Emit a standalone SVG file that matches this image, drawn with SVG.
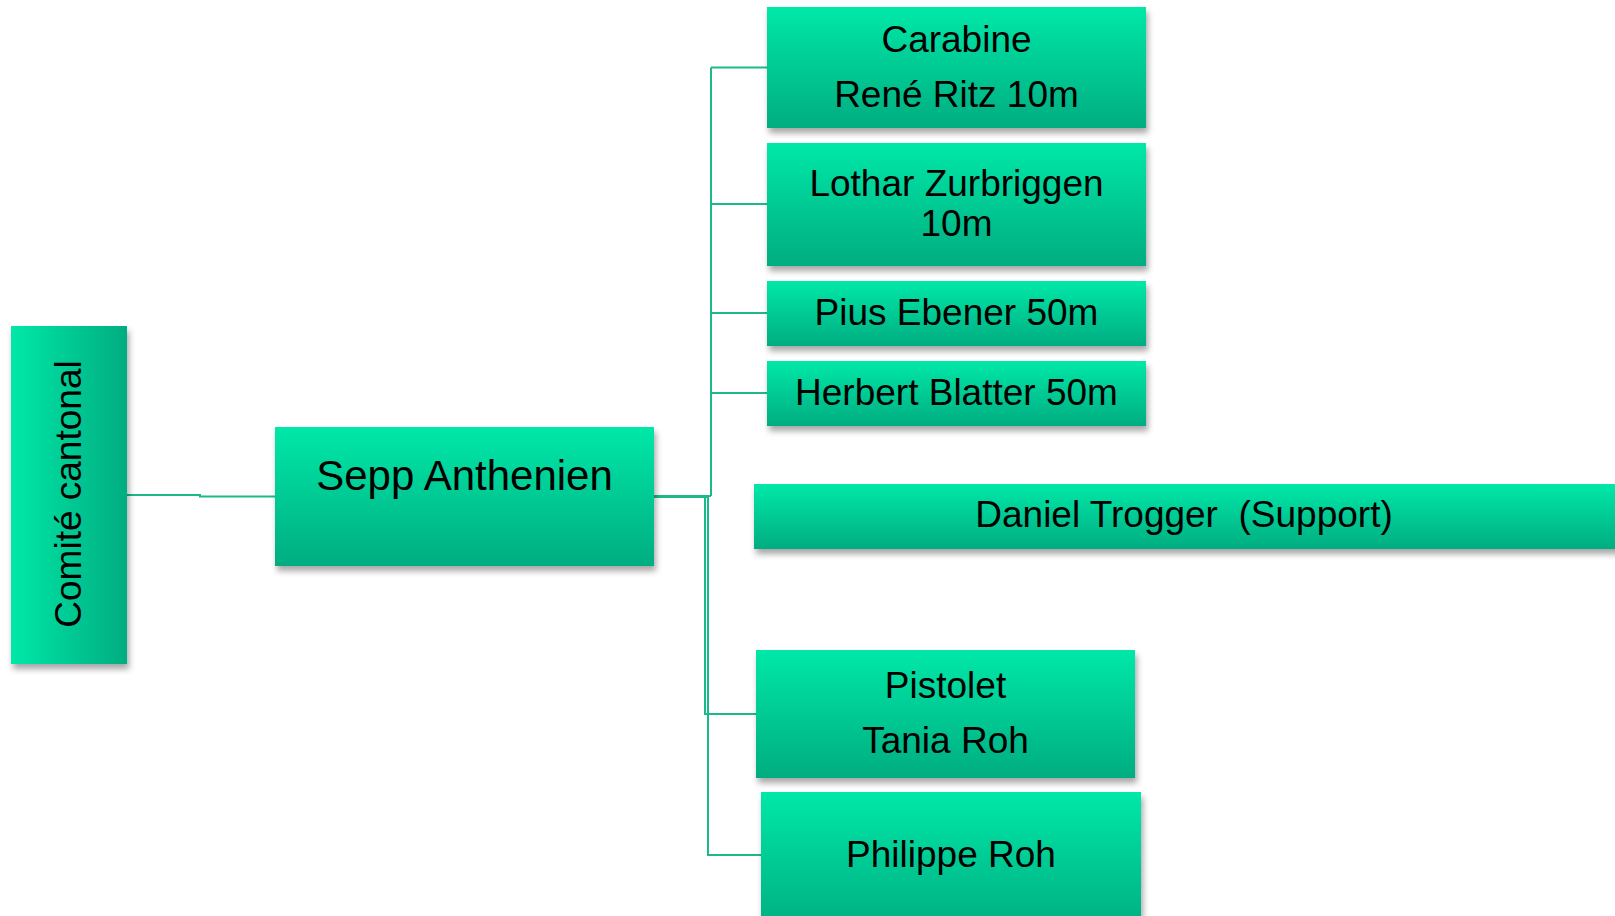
<svg xmlns="http://www.w3.org/2000/svg" width="1615" height="916" viewBox="0 0 1615 916">
  <defs>
    <linearGradient id="gv" x1="0" y1="0" x2="0" y2="1">
      <stop offset="0" stop-color="#00E8A8"/>
      <stop offset="1" stop-color="#00AD80"/>
    </linearGradient>
    <linearGradient id="gh" x1="0" y1="0" x2="1" y2="0">
      <stop offset="0" stop-color="#00E8A8"/>
      <stop offset="1" stop-color="#00AD80"/>
    </linearGradient>
    <filter id="sh" x="-10%" y="-10%" width="120%" height="130%">
      <feDropShadow dx="2" dy="5" stdDeviation="3" flood-color="#000" flood-opacity="0.35"/>
    </filter>
  </defs>
  <style>
    .box { fill: url(#gv); filter: url(#sh); }
    .boxh { fill: url(#gh); filter: url(#sh); }
    .t { font-family: "Liberation Sans", Arial, sans-serif; font-size: 37px; fill: #000; text-anchor: middle; }
    .tl { font-family: "Liberation Sans", Arial, sans-serif; font-size: 42px; fill: #000; text-anchor: middle; }
    .c { fill: none; stroke: #1DB98A; stroke-width: 2; }
  </style>
  <rect width="1615" height="916" fill="#fff"/>

  <g id="connectors">
    <path class="c" d="M127,495 H200 V496.5 H275"/>
    <path class="c" d="M654,496 H711 M711,67.5 V496 M711,67.5 H767 M711,204 H767 M711,313 H767 M711,393 H767"/>
    <path class="c" d="M654,497 H705 V714 H756"/>
    <path class="c" d="M654,497 H708 V855 H761"/>
  </g>

  <g id="comite">
    <rect class="boxh" x="11" y="326" width="116" height="338"/>
    <text class="t" transform="translate(81,494) rotate(-90)">Comité cantonal</text>
  </g>
  <g id="sepp">
    <rect class="box" x="275" y="427" width="379" height="139"/>
    <text class="tl" x="464.5" y="490">Sepp Anthenien</text>
  </g>
  <g id="carabine">
    <rect class="box" x="767" y="7" width="379" height="121"/>
    <text class="t" x="956.5" y="52">Carabine</text>
    <text class="t" x="956.5" y="107">René Ritz 10m</text>
  </g>
  <g id="lothar">
    <rect class="box" x="767" y="143" width="379" height="123"/>
    <text class="t" x="956.5" y="196">Lothar Zurbriggen</text>
    <text class="t" x="956.5" y="236">10m</text>
  </g>
  <g id="pius">
    <rect class="box" x="767" y="281" width="379" height="65"/>
    <text class="t" x="956.5" y="325">Pius Ebener 50m</text>
  </g>
  <g id="herbert">
    <rect class="box" x="767" y="361" width="379" height="65"/>
    <text class="t" x="956.5" y="405">Herbert Blatter 50m</text>
  </g>
  <g id="daniel">
    <rect class="box" x="754" y="484" width="900" height="65"/>
    <text class="t" x="1184" y="527" xml:space="preserve">Daniel Trogger  (Support)</text>
  </g>
  <g id="pistolet">
    <rect class="box" x="756" y="650" width="379" height="128"/>
    <text class="t" x="945.5" y="698">Pistolet</text>
    <text class="t" x="945.5" y="753">Tania Roh</text>
  </g>
  <g id="philippe">
    <rect class="box" x="761" y="792" width="380" height="140"/>
    <text class="t" x="951" y="867">Philippe Roh</text>
  </g>
</svg>
